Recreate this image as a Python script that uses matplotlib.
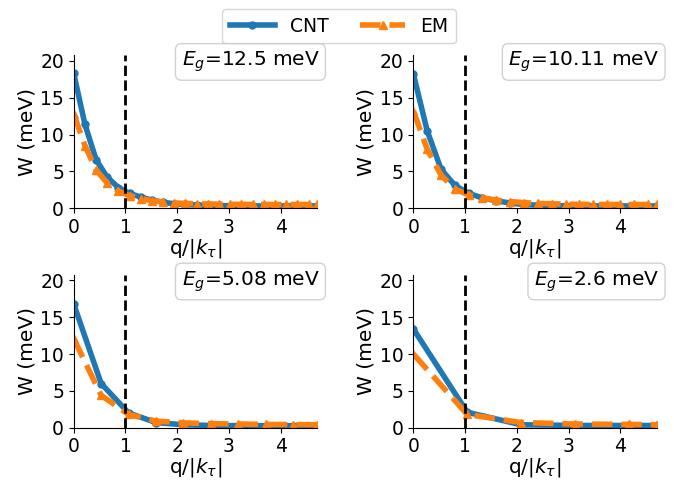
import matplotlib
matplotlib.use("Agg")
import matplotlib.pyplot as plt

# ---- data ----
titles = ["12.5", "10.11", "5.08", "2.6"]

q1 = [0, 0.216, 0.432, 0.648, 0.864, 1.08, 1.30, 1.51, 1.73, 1.94, 2.16, 2.38,
      2.59, 2.81, 3.02, 3.24, 3.46, 3.67, 3.89, 4.10, 4.32, 4.54, 4.70]
cnt1 = [18.3, 11.4, 6.6, 4.2, 2.8, 2.0, 1.5, 1.1, 0.8, 0.6, 0.5, 0.42, 0.38, 0.35,
        0.33, 0.32, 0.31, 0.30, 0.30, 0.30, 0.30, 0.30, 0.30]
em1 = [12.8, 8.5, 5.2, 3.4, 2.3, 1.7, 1.3, 1.0, 0.85, 0.72, 0.65, 0.6, 0.57, 0.55,
       0.53, 0.52, 0.51, 0.50, 0.50, 0.50, 0.50, 0.50, 0.50]

q2 = [0, 0.267, 0.534, 0.80, 1.07, 1.33, 1.60, 1.87, 2.14, 2.40, 2.67, 2.94, 3.20,
      3.47, 3.74, 4.00, 4.27, 4.54, 4.70]
cnt2 = [18.2, 10.5, 5.3, 3.1, 2.0, 1.4, 1.0, 0.7, 0.5, 0.4, 0.35, 0.32, 0.30,
        0.30, 0.30, 0.30, 0.30, 0.30, 0.30]
em2 = [13.2, 8.0, 4.5, 2.6, 1.8, 1.4, 1.1, 0.9, 0.75, 0.65, 0.6, 0.55, 0.52,
       0.50, 0.50, 0.50, 0.50, 0.50, 0.50]

q3 = [0, 0.53, 1.06, 1.59, 2.12, 2.65, 3.18, 3.71, 4.24, 4.70]
cnt3 = [16.8, 6.0, 2.0, 0.7, 0.4, 0.3, 0.28, 0.27, 0.26, 0.25]
em3 = [12.1, 4.4, 1.8, 0.9, 0.65, 0.55, 0.5, 0.45, 0.42, 0.40]

q4 = [0, 1.04, 2.08, 3.12, 4.16, 4.70]
cnt4 = [13.4, 2.1, 0.4, 0.3, 0.3, 0.3]
em4 = [10.0, 1.8, 0.7, 0.5, 0.45, 0.40]

qs = [q1, q2, q3, q4]
cnts = [cnt1, cnt2, cnt3, cnt4]
ems = [em1, em2, em3, em4]

blue = "#1f77b4"
orange = "#ff7f0e"

fig = plt.figure(figsize=(6.89, 4.83), dpi=100)
lefts = [0.107, 0.600]
bottoms = [0.569, 0.1145]
w, h = 0.353, 0.317

handles = None
for i in range(4):
    r, c = divmod(i, 2)
    ax = fig.add_axes([lefts[c], bottoms[r], w, h])
    l1, = ax.plot(qs[i], cnts[i], color=blue, lw=4, marker="o", ms=5, label="CNT")
    l2, = ax.plot(qs[i], ems[i], color=orange, lw=4, ls="--", marker="^", ms=6, label="EM")
    ax.axvline(1, color="black", ls="--", lw=2)
    ax.set_xlim(0, 4.7)
    ax.set_ylim(0, 20.8)
    ax.set_xticks([0, 1, 2, 3, 4])
    ax.set_yticks([0, 5, 10, 15, 20])
    ax.tick_params(labelsize=13.5)
    ax.set_xlabel(r"q/$|k_\tau|$", fontsize=14.5, labelpad=0)
    ax.set_ylabel("W (meV)", fontsize=14.5, labelpad=3)
    for s in ["top", "right"]:
        ax.spines[s].set_visible(False)
    ax.text(1.01, 0.955, r"$E_g$=" + titles[i] + " meV", transform=ax.transAxes,
            ha="right", va="center", fontsize=14.5,
            bbox=dict(boxstyle="round,pad=0.3", facecolor="white", edgecolor="0.8", alpha=0.9))
    handles = [l1, l2]

fig.legend(handles, ["CNT", "EM"], loc="upper center", bbox_to_anchor=(0.492, 1.0),
           ncol=2, fontsize=13.5, handlelength=2.4, columnspacing=1.7, framealpha=0.8,
           edgecolor="0.8", fancybox=True)

fig.savefig("out.png", dpi=100)
